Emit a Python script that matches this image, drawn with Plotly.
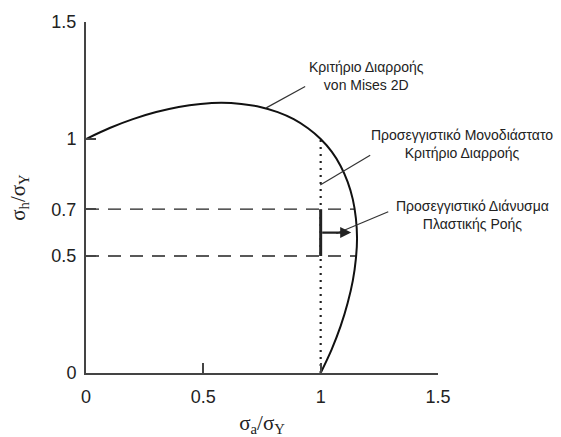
import plotly.graph_objects as go

# von Mises 2D yield locus
curve_x = [0.0, 0.101, 0.200, 0.299, 0.395, 0.488, 0.577, 0.662, 0.742, 0.817, 0.885, 0.946,
           1.0, 1.047, 1.085, 1.115, 1.137, 1.150, 1.155, 1.150, 1.137, 1.115, 1.085, 1.047, 1.0]
curve_y = [1.0, 1.047, 1.085, 1.115, 1.137, 1.150, 1.155, 1.150, 1.137, 1.115, 1.085, 1.046,
           1.0, 0.946, 0.885, 0.817, 0.742, 0.662, 0.577, 0.488, 0.395, 0.299, 0.200, 0.101, 0.0]

# dashed stress levels
level_y = [0.7, 0.5]
level_end_x = [1.145, 1.151]

# approximate 1D yield criterion (dotted vertical)
approx_x = [1.0, 1.0]
approx_y = [0.0, 1.0]

# flow segment and flow vector
flow_x = [1.0, 1.0]
flow_y = [0.5, 0.7]
vec_start = (1.0, 0.6)
vec_end = (1.13, 0.6)

x_ticks = [0, 0.5, 1, 1.5]
x_ticklabels = ["0", "0.5", "1", "1.5"]
y_ticks = [0, 0.5, 0.7, 1, 1.5]
y_ticklabels = ["0", "0.5", "0.7", "1", "1.5"]

# label texts with their centres, in paper fractions of the plot area
labels = [
    ("Κριτήριο Διαρροής<br>von Mises 2D", 0.798, 0.845),
    ("Προσεγγιστικό Μονοδιάστατο<br>Κριτήριο Διαρροής", 1.068, 0.651),
    ("Προσεγγιστικό Διάνυσμα<br>Πλαστικής Ροής", 1.098, 0.449),
]
leaders = [
    ((0.934, 1.224), (0.768, 1.133)),
    ((1.211, 0.931), (0.998, 0.803)),
    ((1.288, 0.689), (1.067, 0.596)),
]

fig = go.Figure()

for y, xe in zip(level_y, level_end_x):
    fig.add_trace(go.Scatter(x=[0, xe], y=[y, y], mode="lines",
                             line=dict(color="#222", width=1.3, dash="13px,9px"),
                             showlegend=False, hoverinfo="skip"))

fig.add_trace(go.Scatter(x=approx_x, y=approx_y, mode="lines",
                         line=dict(color="#222", width=2.2, dash="2px,5px"),
                         showlegend=False, hoverinfo="skip"))

fig.add_trace(go.Scatter(x=curve_x, y=curve_y, mode="lines",
                         line=dict(color="#111", width=2, shape="spline"),
                         showlegend=False, hoverinfo="skip"))

fig.add_trace(go.Scatter(x=flow_x, y=flow_y, mode="lines",
                         line=dict(color="#222", width=3),
                         showlegend=False, hoverinfo="skip"))

fig.add_annotation(x=vec_end[0], y=vec_end[1], ax=vec_start[0], ay=vec_start[1],
                   xref="x", yref="y", axref="x", ayref="y", text="",
                   showarrow=True, arrowhead=2, arrowsize=1, arrowwidth=2.2, arrowcolor="#222")

for (x0, y0), (x1, y1) in leaders:
    fig.add_shape(type="line", x0=x0, y0=y0, x1=x1, y1=y1, xref="x", yref="y",
                  line=dict(color="#333", width=1.2))

for text, x, y in labels:
    fig.add_annotation(x=x, y=y, xref="paper", yref="paper", text=text, showarrow=False,
                       xanchor="center", yanchor="middle", align="center",
                       font=dict(family="Liberation Sans, Arial", size=14, color="#222"))

axis_common = dict(showgrid=False, zeroline=False, showline=True, linecolor="#444", linewidth=2,
                   ticks="inside", ticklen=10, tickwidth=1.5, tickcolor="#444",
                   tickfont=dict(family="Liberation Sans, Arial", size=18, color="#222"))

fig.update_xaxes(range=[0, 1.5], tickvals=x_ticks, ticktext=x_ticklabels,
                 ticklabelstandoff=6,
                 title=dict(text="σ<sub>a</sub>/σ<sub>Y</sub>", standoff=10,
                            font=dict(family="Liberation Serif, Times New Roman", size=21, color="#222")),
                 **axis_common)
fig.update_yaxes(range=[0, 1.5], tickvals=y_ticks, ticktext=y_ticklabels,
                 ticklabelstandoff=4,
                 title=dict(text="σ<sub>h</sub>/σ<sub>Y</sub>", standoff=20,
                            font=dict(family="Liberation Serif, Times New Roman", size=21, color="#222")),
                 **axis_common)

fig.update_layout(width=561, height=437, margin=dict(l=86, r=123, t=22, b=64, autoexpand=False),
                  plot_bgcolor="white", paper_bgcolor="white", showlegend=False)

fig.write_html("out.html")
